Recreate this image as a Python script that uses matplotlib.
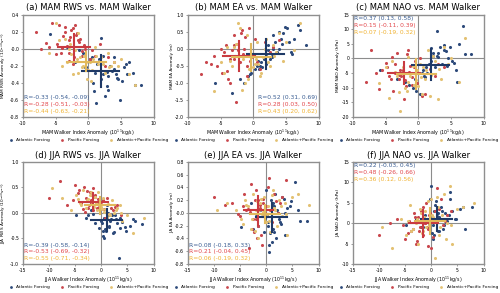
import matplotlib
matplotlib.use("Agg")
import matplotlib.pyplot as plt
import numpy as np

plt.rcParams['font.family'] = 'DejaVu Sans'
plt.rcParams['axes.unicode_minus'] = False

# ---- Walker index anomalies (x), shared within a season ----
mam_x_atl = [2.3, 4.5, 6.8, 0.5, 1.2, 3.3, -0.8, 5.1, 2.8, 7.2, 1.6, 3.9, -2.1, 0.9, 4.2, 5.8, 2.0, -0.3, 3.0, 8.1,
             1.1, 6.3, 2.6, -1.4, 4.8, 0.2, 3.6, 1.9, 5.5, -3.2, 2.2, 4.0, 0.7, 6.0, 3.1, -5.8, 1.4, 2.9, 4.4, -0.5]
mam_x_pac = [-8.0, -6.0, -5.5, -4.8, -4.2, -3.5, -3.0, -2.6, -2.2, -1.8, -1.4, -1.0, -0.5, 0.3, 1.0, 1.8, 2.5, 4.0, -3.8, -2.9,
             -2.0, -1.2, -0.2, -4.5, -3.2, -6.5, -2.4, -1.6, 0.6, -5.0, -3.6, -2.8, -1.9, -0.9, -4.0, -3.0, 3.0, -7.2, -0.7, -2.3]
mam_x_both = [-6.0, -4.5, -4.0, -3.2, -2.8, -2.3, -1.8, -1.5, -1.0, -0.6, -0.2, 0.2, 0.6, 1.0, 1.5, 2.0, 2.5, 3.0, 3.5, 4.0,
              5.0, 6.3, 7.2, -3.6, -2.0, -0.8, 0.4, 1.8, 3.2, -5.0, -1.2, 0.0, 2.2, -2.6, -0.4, 1.2, 4.5, -3.0, -1.6, 0.8]

jja_x_atl = [-4.8, -3.0, -2.0, -1.2, -0.5, 0.0, 0.3, 0.6, 0.9, 1.2, 1.5, 1.8, 2.2, 2.6, 3.0, 3.5, 4.0, 4.8, 5.5, 6.5,
             7.8, -0.2, 0.5, 1.0, 1.4, 2.0, 2.8, 3.3, -1.5, 0.8, 1.7, 2.4, 3.6, -2.5, 0.2, 1.1, 4.5, 6.0, 0.4, 1.3]
jja_x_pac = [-10.0, -8.0, -6.5, -5.0, -4.2, -3.8, -3.4, -3.0, -2.6, -2.2, -1.9, -1.6, -1.3, -1.0, -0.7, -0.4, 0.0, 0.5, 1.0, 1.5,
             2.2, 3.0, 3.8, -4.5, -2.8, -2.0, -1.5, -0.8, 0.3, -3.2, -2.4, -1.2, -0.2, 1.8, -5.5, -3.6, -1.8, -0.6, 0.8, 2.6]
jja_x_both = [-7.5, -5.8, -4.8, -4.0, -3.5, -3.0, -2.5, -2.0, -1.6, -1.2, -0.8, -0.4, 0.0, 0.4, 0.8, 1.2, 1.6, 2.0, 2.5, 3.0,
              3.5, 4.0, 5.0, 6.0, 8.2, -2.8, -1.8, -0.6, 0.6, 1.4, -3.8, -2.2, -1.0, 0.2, 2.8, -4.4, -1.4, 1.0, 3.8, -9.5]

# ---- MAM responses ----
mam_rws_atl = [-0.30, -0.35, -0.28, -0.10, -0.64, -0.20, -0.05, -0.38, -0.44, -0.42, -0.12, -0.24, -0.15, -0.50, -0.30, -0.18, 0.13, -0.22, -0.32, -0.42,
               -0.28, -0.15, -0.55, -0.02, -0.60, -0.12, -0.26, -0.35, -0.22, 0.02, -0.08, -0.10, -0.40, -0.30, -0.48, 0.17, -0.18, -0.27, -0.34, -0.22]
mam_rws_pac = [0.20, 0.02, 0.30, 0.05, -0.05, 0.25, 0.10, 0.22, -0.10, 0.18, 0.08, -0.03, 0.00, -0.12, -0.08, 0.05, -0.20, -0.15, 0.15, -0.05,
               0.28, 0.12, -0.25, 0.28, 0.03, 0.07, -0.18, 0.10, -0.02, -0.06, 0.20, 0.14, 0.16, -0.08, 0.01, -0.14, -0.10, 0.00, 0.04, 0.24]
mam_rws_both = [-0.05, 0.10, -0.20, -0.15, 0.05, -0.30, -0.12, 0.18, -0.22, -0.08, -0.35, -0.15, -0.25, 0.02, -0.18, -0.10, -0.28, -0.05, -0.20, -0.15,
                -0.12, -0.30, -0.43, 0.12, -0.02, -0.20, -0.38, -0.14, -0.22, 0.30, -0.10, -0.25, -0.18, -0.06, -0.16, -0.08, -0.20, 0.00, -0.28, -0.12]

mam_ea_atl = [0.1, 0.45, 0.70, -0.5, -0.4, 0.2, -0.8, 0.6, -0.2, 0.55, -0.3, 0.0, -0.9, -0.6, 0.3, -0.1, -0.2, -0.7, 0.4, 0.1,
              -0.5, 0.3, -0.3, -1.0, 0.65, -0.6, -0.1, -0.45, 0.2, -1.3, -0.05, 0.5, -0.35, -0.15, 0.0, -1.0, -0.55, -0.25, 0.15, -0.75]
mam_ea_pac = [-0.75, -0.2, -0.5, -0.7, 0.1, -0.3, 0.4, -1.55, -0.2, 0.55, 0.0, -0.8, -0.35, 0.3, -0.6, 0.2, -0.1, 0.25, -0.9, 0.1,
              -0.4, 0.35, -0.25, -0.1, -0.05, -0.45, 0.15, -0.15, -0.4, 0.0, -1.0, -0.2, 0.45, -0.5, -0.65, -0.3, 0.05, -0.4, 0.6, -0.05]
mam_ea_both = [-1.25, -0.7, 0.05, -0.5, -0.2, 0.75, -1.2, -0.3, 0.4, -0.6, -0.15, -0.45, 0.2, -0.8, -0.25, 0.3, -0.5, 0.1, -0.1, 0.45,
               0.2, -0.05, 0.75, -0.35, 0.6, -0.9, -0.3, 0.0, -0.2, -0.4, -1.0, -0.55, -0.4, 0.15, -0.25, -0.7, -0.35, 0.05, -0.2, -0.45]

mam_nao_atl = [2, 0, 11, -5, -3, 4, -10, -1, 9.5, 1.5, -2, 3, -8, -6, 2.5, -4, -1, -11, 0.5, 1.5,
               -6.5, 5, -3, -9, 4, -12, -2, 3.5, -1.5, -7, 1, 4.5, -4, -8, 2, -4, -5, 1, -2.5, -7]
mam_nao_pac = [-8, -10.5, -4, -3, -7, -2, -5, -6, -14, 1.5, -4.5, -9, -1, 0, -12, -3.5, -6, -3, -11, -5.5,
               -7.5, -2.5, -8.5, -6, 2, -5, -4, 3, -13, -1.5, -5, -4, -9.5, -6.5, 0.5, -7, -2, 3, -3, -4.5]
mam_nao_both = [-8.5, -13.5, -1, -6, -18, -3, -11, 0.5, -5, -9, -4, -2, -12, -7, 3, -5.5, -1, -14, -7, 4,
                0, -8, 7, -4.5, -10, -2.5, -6.5, -13, -3.5, -3, -6, -9.5, 1, -5, -7.5, -4, -2, -11.5, -8, -3]

# ---- JJA responses ----
jja_rws_atl = [-0.05, -0.10, 0.05, -0.20, -0.30, -0.15, -0.45, -0.10, -0.35, 0.00, -0.25, -0.12, -0.40, -0.05, -0.20, -0.30, -0.18, -0.35, -0.25, -0.15,
               -0.22, 0.10, -0.50, -0.08, -0.28, -0.05, -0.12, -0.88, -0.02, -0.32, -0.15, -0.38, -0.10, -0.05, -0.20, 0.15, -0.28, -0.12, -0.35, -0.05]
jja_rws_pac = [0.30, 0.62, 0.15, 0.55, 0.45, 0.20, 0.50, 0.30, 0.10, 0.40, 0.25, 0.05, 0.35, 0.18, 0.28, 0.12, 0.22, 0.08, 0.30, -0.02,
               0.05, 0.15, -0.05, 0.38, 0.42, 0.20, 0.48, 0.10, 0.25, 0.02, 0.15, 0.32, 0.18, 0.10, 0.25, 0.08, 0.35, 0.22, -0.10, 0.12]
jja_rws_both = [0.30, 0.05, 0.35, 0.20, 0.45, 0.10, 0.28, 0.40, 0.15, 0.32, 0.05, 0.22, 0.12, 0.30, 0.08, 0.18, -0.05, 0.25, 0.00, 0.10,
                0.15, -0.15, -0.05, -0.40, -0.10, 0.25, 0.18, 0.40, 0.02, -0.02, 0.15, 0.35, 0.20, 0.08, 0.05, 0.28, 0.12, -0.08, 0.00, 0.48]

jja_ea_atl = [-0.22, 0.15, -0.05, 0.05, -0.3, 0.35, -0.15, -0.5, 0.2, -0.25, 0.1, -0.4, 0.0, -0.15, 0.25, -0.35, 0.08, 0.18, 0.48, -0.12,
              -0.13, -0.08, -0.62, 0.12, -0.3, 0.05, -0.18, 0.22, -0.2, -0.32, 0.3, -0.1, 0.0, -0.25, -0.05, -0.45, 0.1, 0.05, -0.2, 0.15]
jja_ea_pac = [0.25, 0.12, 0.15, -0.05, 0.30, 0.05, -0.55, 0.45, -0.1, 0.2, 0.35, -0.2, 0.08, -0.35, 0.15, -0.05, 0.1, 0.55, -0.15, 0.3,
              0.0, 0.25, 0.52, 0.1, -0.25, -0.1, 0.2, -0.5, 0.4, 0.02, -0.3, 0.12, 0.0, 0.18, -0.02, 0.06, -0.4, 0.22, 0.05, 0.15]
jja_ea_both = [0.15, 0.05, -0.1, 0.2, 0.1, -0.25, 0.3, 0.05, -0.4, 0.15, -0.05, 0.25, -0.15, 0.1, -0.3, 0.35, 0.05, -0.2, 0.2, -0.05,
               0.15, -0.35, 0.25, 0.3, 0.13, -0.1, 0.18, 0.02, -0.12, 0.08, 0.12, -0.28, 0.22, -0.05, 0.1, -0.18, 0.05, 0.28, -0.02, 0.05]

jja_nao_atl = [-0.5, 1, -1, 2, 0, 9, -4, 3, 5.5, -2, 1.5, 4, -1.5, 2.5, 0.5, 7.5, 3, 1, 3.5, -1.5,
               4, 6, -3, 1.8, -2, 3, 0.2, 2, -1, 4.5, 0.8, -0.5, 6, 0.5, -2.5, 1.2, 1, 4, -0.5, 2.5]
jja_nao_pac = [-3, 0, 1, -4, 0.5, -2, 2.5, -5, 1.5, -1, 3, -3, 0, 5, -1.5, 2, -6, 1, 8.5, 3.5,
               -0.5, 2, 3, -2.5, -4.5, 0.5, 4, -1, -3.5, 1.5, -2, 0, 2.5, 6, -0.5, -1.5, 1, -5.5, 3, 0.5]
jja_nao_both = [-6, 1, -3, 4.5, -1.5, 0, -5, 2.5, -2, 3, 0.5, -0.5, 6, 1.5, -8.5, 4, -1, 2, 7, 0,
                9, -5, 3.5, 4, 5, 1, -2.5, 5.5, 0.5, -3, -2, 3.5, -1, 2, -4, 0.5, 1.5, 6.5, -0.5, -1]

# ---- composite mean and spread (crosshairs), order: Atlantic, Pacific, Atlantic+Pacific ----
mam_x_mean = [1.9, -2.2, -0.3]
mam_x_std = [2.8, 2.4, 3.0]
jja_x_mean = [1.0, -1.5, -0.2]
jja_x_std = [2.9, 2.7, 2.9]
y_mean = {'a': [-0.26, 0.02, -0.15], 'b': [-0.16, -0.21, -0.25], 'c': [-2.2, -4.9, -5.3],
          'd': [-0.14, 0.21, 0.15], 'e': [-0.07, 0.04, -0.02], 'f': [1.05, -0.1, 0.5]}
y_std = {'a': [0.19, 0.15, 0.11], 'b': [0.44, 0.45, 0.40], 'c': [5.3, 3.7, 5.0],
         'd': [0.22, 0.18, 0.17], 'e': [0.23, 0.23, 0.14], 'f': [3.0, 3.2, 3.2]}

r_text = {
    'a': ["R=-0.33 (-0.54, -0.09)", "R=-0.28 (-0.51, -0.03)", "R=-0.44 (-0.63, -0.21)"],
    'b': ["R=0.52 (0.31, 0.69)", "R=0.28 (0.03, 0.50)", "R=0.43 (0.20, 0.62)"],
    'c': ["R=0.37 (0.13, 0.58)", "R=0.15 (-0.11, 0.39)", "R=0.07 (-0.19, 0.32)"],
    'd': ["R=-0.39 (-0.58, -0.14)", "R=-0.53 (-0.69, -0.32)", "R=-0.55 (-0.71, -0.34)"],
    'e': ["R=0.08 (-0.18, 0.33)", "R=0.21 (-0.04, 0.45)", "R=0.06 (-0.19, 0.32)"],
    'f': ["R=0.22 (-0.03, 0.45)", "R=0.48 (-0.26, 0.66)", "R=0.36 (0.12, 0.56)"],
}

labels = ["Atlantic Forcing", "Pacific Forcing", "Atlantic+Pacific Forcing"]
dot_colors = ['#2d4a7a', '#c9474d', '#e3c172']
cross_colors = ['#1e3966', '#c93a40', '#e2b95c']
txt_colors = ['#3a5d92', '#e2474c', '#f0b232']

rws_unit = " (10$^{-10}$s$^{-1}$)"
panels = [
    ('a', "(a) MAM RWS vs. MAM Walker", "MAM", "MAM RWS Anomaly" + rws_unit,
     [mam_rws_atl, mam_rws_pac, mam_rws_both], (-0.8, 0.4), np.arange(-0.8, 0.41, 0.2), '%.1f', 'bl'),
    ('b', "(b) MAM EA vs. MAM Walker", "MAM", "MAM EA Anomaly (m)",
     [mam_ea_atl, mam_ea_pac, mam_ea_both], (-2.0, 1.0), np.arange(-2.0, 1.01, 0.5), '%.1f', 'br'),
    ('c', "(c) MAM NAO vs. MAM Walker", "MAM", "MAM NAO Anomaly (hPa)",
     [mam_nao_atl, mam_nao_pac, mam_nao_both], (-20, 15), np.arange(-20, 16, 5), '%d', 'tl'),
    ('d', "(d) JJA RWS vs. JJA Walker", "JJA", "JJA RWS Anomaly" + rws_unit,
     [jja_rws_atl, jja_rws_pac, jja_rws_both], (-1.0, 1.0), np.arange(-1.0, 1.01, 0.5), '%.1f', 'bl'),
    ('e', "(e) JJA EA vs. JJA Walker", "JJA", "JJA EA Anomaly (m)",
     [jja_ea_atl, jja_ea_pac, jja_ea_both], (-0.8, 0.8), np.arange(-0.8, 0.81, 0.2), '%.1f', 'bl'),
    ('f', "(f) JJA NAO vs. JJA Walker", "JJA", "JJA NAO Anomaly (hPa)",
     [jja_nao_atl, jja_nao_pac, jja_nao_both], (-10, 15), np.arange(-10, 16, 5), '%d', 'tl'),
]

fig = plt.figure(figsize=(5, 2.93), dpi=100)
lefts = [0.046, 0.376, 0.706]
bottoms = [0.601, 0.099]
w, h = 0.261, 0.349

for i, (key, title, season, ylabel, ys, ylim, yticks, yfmt, rpos) in enumerate(panels):
    ax = fig.add_axes([lefts[i % 3], bottoms[i // 3], w, h])
    if season == "MAM":
        xs = [mam_x_atl, mam_x_pac, mam_x_both]
        xm, xsd = mam_x_mean, mam_x_std
        xlim, xticks = (-10, 10), [-10, -5, 0, 5, 10]
    else:
        xs = [jja_x_atl, jja_x_pac, jja_x_both]
        xm, xsd = jja_x_mean, jja_x_std
        xlim, xticks = (-15, 10), [-15, -10, -5, 0, 5, 10]

    ax.axhline(0, color='#8c8c8c', lw=0.8, zorder=1)
    ax.axvline(0, color='#8c8c8c', lw=0.8, zorder=1)

    for j in range(3):
        ax.scatter(xs[j], ys[j], s=5, color=dot_colors[j], linewidths=0, zorder=2, label=labels[j])
    for j in range(3):
        my, sy = y_mean[key][j], y_std[key][j]
        ax.plot([xm[j] - xsd[j], xm[j] + xsd[j]], [my, my], color=cross_colors[j], lw=1.5, zorder=3)
        ax.plot([xm[j], xm[j]], [my - sy, my + sy], color=cross_colors[j], lw=1.5, zorder=3)

    ax.set_xlim(xlim)
    ax.set_ylim(ylim)
    ax.set_xticks(xticks)
    ax.set_yticks(yticks)
    ax.set_yticklabels([yfmt % v for v in yticks])
    ax.tick_params(labelsize=3.3, length=1.5, width=0.5, color='#777777', pad=1.2)
    for sp in ax.spines.values():
        sp.set_color('#8f8f8f')
        sp.set_linewidth(1.0)

    ax.set_title(title, fontsize=6.0, pad=3)
    ax.set_xlabel(season + " Walker Index Anomaly (10$^{11}$kg/s)", fontsize=3.4, labelpad=1.5)
    ax.set_ylabel(ylabel, fontsize=3.1, labelpad=1.0)

    # correlation text
    for j in range(3):
        if rpos == 'bl':
            ax.text(0.01, 0.025 + (2 - j) * 0.068, r_text[key][j], transform=ax.transAxes,
                    fontsize=4.3, color=txt_colors[j], ha='left', va='bottom')
        elif rpos == 'br':
            ax.text(0.99, 0.025 + (2 - j) * 0.068, r_text[key][j], transform=ax.transAxes,
                    fontsize=4.3, color=txt_colors[j], ha='right', va='bottom')
        else:
            ax.text(0.01, 0.985 - j * 0.068, r_text[key][j], transform=ax.transAxes,
                    fontsize=4.3, color=txt_colors[j], ha='left', va='top')

    ax.legend(loc='upper center', bbox_to_anchor=(0.5, -0.19), ncol=3, frameon=False,
              fontsize=3.2, markerscale=0.9, handletextpad=0.8, columnspacing=2.2,
              handlelength=1.0, borderaxespad=0)

fig.savefig("out.png", dpi=100)
